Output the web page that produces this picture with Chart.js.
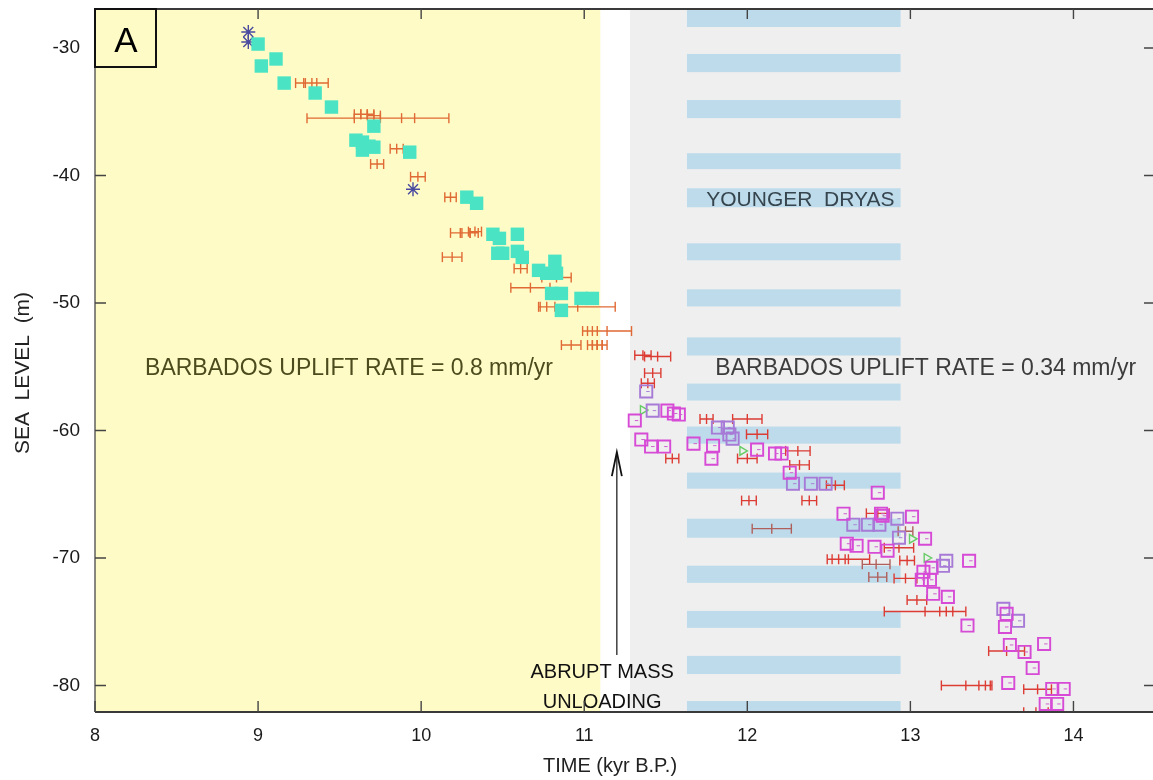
<!DOCTYPE html>
<html>
<head>
<meta charset="utf-8">
<script src="https://cdn.jsdelivr.net/npm/chart.js@4.4.0/dist/chart.umd.min.js"></script>
<style>
  html, body { margin: 0; padding: 0; background: #fff; overflow: hidden; }
  #wrap { width: 1156px; height: 780px; }
</style>
</head>
<body>
<div id="wrap"><canvas id="myChart"></canvas></div>
<script>
// time in kyr B.P., sea level in m
const xTicks = [8, 9, 10, 11, 12, 13, 14];
const yTicks = [-80, -70, -60, -50, -40, -30];

// filled squares (left, turquoise)
const coralX = [9.00, 9.02, 9.11, 9.16, 9.35, 9.45, 9.71, 9.60, 9.64, 9.68, 9.71, 9.64, 9.93, 10.28, 10.34,
  10.44, 10.48, 10.59, 10.47, 10.50, 10.59, 10.62, 10.72, 10.77, 10.82, 10.83, 10.80, 10.86, 10.98, 11.05, 10.86];
const coralY = [-29.69, -31.41, -30.86, -32.75, -33.53, -34.63, -36.13, -37.23, -37.38, -37.70, -37.78, -38.01, -38.17, -41.70, -42.18,
  -44.61, -44.93, -44.61, -46.10, -46.10, -45.95, -46.42, -47.44, -47.67, -46.73, -47.67, -49.25, -49.25, -49.64, -49.64, -50.58];

// asterisks
const starX = [8.94, 8.94, 9.95];
const starY = [-28.74, -29.53, -41.08];

// error bars, left part (x, y, half width)
const leftBarX = [9.28, 9.36, 9.59, 9.96, 9.63, 9.67, 9.71, 9.85, 9.73, 9.98, 10.18, 10.24, 10.30, 10.33, 10.19,
  10.61, 10.83, 10.67, 10.77, 10.96, 11.05, 11.14, 10.92, 11.05, 11.08, 11.11];
const leftBarY = [-32.75, -32.75, -35.5, -35.5, -35.2, -35.2, -35.3, -37.9, -39.1, -40.1, -41.7, -44.5, -44.5, -44.4, -46.4,
  -47.3, -48.0, -48.8, -50.3, -50.3, -52.2, -52.2, -53.3, -53.3, -53.3, -53.3];
const leftBarErr = [0.05, 0.07, 0.29, 0.21, 0.04, 0.04, 0.04, 0.04, 0.04, 0.045, 0.035, 0.06, 0.05, 0.04, 0.06,
  0.04, 0.09, 0.12, 0.05, 0.23, 0.03, 0.15, 0.06, 0.03, 0.03, 0.03];

// error bars, right part
const rightBarX = [11.36, 11.45, 11.42, 11.39, 11.75, 12.00, 12.06, 11.54, 12.00, 12.31, 12.32, 12.54, 12.01, 12.38,
  12.80, 12.93, 12.62, 12.56, 12.98, 12.97, 13.04, 13.09, 13.22, 13.59, 13.34, 13.46, 13.78, 13.77];
const rightBarY = [-54.1, -54.2, -55.5, -56.3, -59.1, -59.1, -60.3, -62.2, -62.2, -61.6, -62.7, -64.3, -65.5, -65.5,
  -66.5, -69.2, -70.1, -70.1, -70.2, -71.6, -73.3, -74.2, -74.2, -77.3, -80.0, -80.0, -80.3, -82.1];
const rightBarErr = [0.05, 0.08, 0.05, 0.04, 0.04, 0.09, 0.065, 0.04, 0.06, 0.075, 0.06, 0.055, 0.045, 0.045,
  0.07, 0.09, 0.13, 0.04, 0.045, 0.07, 0.06, 0.25, 0.04, 0.11, 0.15, 0.04, 0.085, 0.075];

// error bars, greyish
const greyBarX = [12.15, 12.97, 12.79, 12.80];
const greyBarY = [-67.7, -67.9, -70.5, -71.5];
const greyBarErr = [0.12, 0.045, 0.085, 0.055];

// open squares, magenta
const magX = [11.31, 11.55, 11.58, 11.51, 11.35, 11.41, 11.49, 11.67, 11.79, 11.78, 12.06, 12.17, 12.21, 12.26, 12.80,
  12.59, 12.82, 12.83, 13.01, 13.09, 12.61, 12.67, 12.78, 12.86, 13.36, 13.08, 13.13, 13.12, 13.07, 13.14, 13.23,
  13.35, 13.59, 13.58, 13.61, 13.70, 13.82, 13.75, 13.60, 13.87, 13.94, 13.83, 13.90];
const magY = [-59.22, -58.67, -58.75, -58.44, -60.71, -61.26, -61.26, -61.03, -61.19, -62.21, -61.50, -61.81, -61.81, -63.31, -64.88,
  -66.53, -66.53, -66.69, -66.76, -68.49, -68.88, -69.04, -69.12, -69.43, -70.22, -71.08, -70.77, -71.71, -71.71, -72.81, -73.05,
  -75.3, -74.38, -75.41, -76.82, -77.37, -76.74, -78.63, -79.80, -80.27, -80.27, -81.45, -81.45];

// open squares, lavender
const lavX = [11.38, 11.42, 11.82, 11.88, 11.89, 11.91, 12.28, 12.39, 12.48, 12.65, 12.74, 12.81, 12.92, 12.93, 13.22, 13.20, 13.57, 13.66];
const lavY = [-56.94, -58.44, -59.77, -59.77, -60.32, -60.64, -64.17, -64.17, -64.17, -67.39, -67.39, -67.39, -66.92, -68.41, -70.22, -70.61, -73.99, -74.93];

// small green markers
const greenX = [11.36, 11.97, 13.01, 13.10];
const greenY = [-58.4, -61.6, -68.5, -70.0];

// shaded periods and Younger Dryas stripes
const shadeFrom = [8, 11.10, 11.28];
const shadeTo = [11.10, 11.28, 14.5];
const stripeX = [11.63, 12.94];
const stripeTop = [-26.9, -30.47, -34.08, -38.25, -41.0, -45.32, -48.93, -52.70, -56.32, -59.69, -63.30, -66.92, -70.61, -74.15, -77.68, -81.22];
const stripeBottom = [-28.35, -31.89, -35.50, -39.50, -42.49, -46.65, -50.27, -54.12, -57.65, -61.03, -64.56, -68.41, -71.95, -75.48, -79.10, -82.5];

// arrow (x, from y, to y)
const arrowX = 11.20;
const arrowFrom = -77.6;
const arrowTo = -61.7;

const FONT = "'Liberation Sans', Arial, sans-serif";

function pts(xs, ys) {
  return xs.map((x, i) => ({ x: x, y: ys[i] }));
}

function barPts(xs, ys, es) {
  const out = [];
  xs.forEach((x, i) => {
    out.push({ x: x - es[i], y: ys[i] }, { x: x, y: ys[i] }, { x: x + es[i], y: ys[i] }, { x: x + es[i], y: null });
  });
  return out;
}

function barSet(data, color) {
  return {
    type: 'line', data: data, borderColor: color, borderWidth: 1.4, fill: false, tension: 0, spanGaps: false,
    pointStyle: 'line', rotation: 90, pointRadius: 5, pointBorderColor: color, pointBorderWidth: 1.4
  };
}

const backdrop = {
  id: 'backdrop',
  beforeDraw(chart) {
    const { ctx, chartArea: a, scales: { x, y } } = chart;
    const shadeColors = ['#fffbc6', '#ffffff', '#efefef'];
    ctx.save();
    ctx.beginPath();
    ctx.rect(a.left, a.top, a.right - a.left, a.bottom - a.top);
    ctx.clip();
    shadeFrom.forEach((s, i) => {
      const l = x.getPixelForValue(s), r = x.getPixelForValue(shadeTo[i]);
      ctx.fillStyle = shadeColors[i];
      ctx.fillRect(l, a.top, r - l, a.bottom - a.top);
    });
    ctx.fillStyle = '#bddbea';
    const l = x.getPixelForValue(stripeX[0]), r = x.getPixelForValue(stripeX[1]);
    stripeTop.forEach((t, i) => {
      const t1 = y.getPixelForValue(t), b1 = y.getPixelForValue(stripeBottom[i]);
      ctx.fillRect(l, t1, r - l, b1 - t1);
    });
    ctx.restore();
  },
  beforeDatasetsDraw(chart) {
    const { ctx, scales: { x, y } } = chart;
    ctx.save();
    ctx.textBaseline = 'middle';
    ctx.textAlign = 'left';
    ctx.font = '23px ' + FONT;
    ctx.fillStyle = '#4b4b1e';
    ctx.fillText('BARBADOS UPLIFT RATE = 0.8 mm/yr', x.getPixelForValue(8.307), y.getPixelForValue(-55.14));
    ctx.fillStyle = '#3c3c3c';
    ctx.fillText('BARBADOS UPLIFT RATE = 0.34 mm/yr', x.getPixelForValue(11.804), y.getPixelForValue(-55.14));
    ctx.font = '21px ' + FONT;
    ctx.fillStyle = '#36444e';
    ctx.fillText('YOUNGER  DRYAS', x.getPixelForValue(11.748), y.getPixelForValue(-41.94));

    ctx.textAlign = 'center';
    ctx.font = '20px ' + FONT;
    ctx.fillStyle = '#111';
    ctx.fillText('ABRUPT MASS', x.getPixelForValue(11.11), y.getPixelForValue(-79.0));
    ctx.fillText('UNLOADING', x.getPixelForValue(11.11), y.getPixelForValue(-81.3));

    // arrow
    const ax = x.getPixelForValue(arrowX);
    const ay0 = y.getPixelForValue(arrowFrom), ay1 = y.getPixelForValue(arrowTo);
    ctx.strokeStyle = '#111';
    ctx.lineWidth = 1.2;
    ctx.beginPath();
    ctx.moveTo(ax, ay0);
    ctx.lineTo(ax, ay1);
    ctx.stroke();
    ctx.lineWidth = 1.8;
    ctx.beginPath();
    ctx.moveTo(ax - 5, ay1 + 24);
    ctx.lineTo(ax, ay1);
    ctx.lineTo(ax + 5, ay1 + 24);
    ctx.stroke();
    ctx.restore();
  },
  afterDatasetsDraw(chart) {
    const { ctx, chartArea: a, scales: { x, y } } = chart;
    ctx.save();
    // frame
    ctx.strokeStyle = '#3a3a3a';
    ctx.lineWidth = 2.2;
    ctx.beginPath();
    ctx.moveTo(a.left, a.top); ctx.lineTo(a.right, a.top);
    ctx.moveTo(a.left, a.bottom); ctx.lineTo(a.right, a.bottom);
    ctx.stroke();
    ctx.lineWidth = 1.4;
    ctx.strokeStyle = '#555';
    ctx.beginPath();
    ctx.moveTo(a.left, a.top); ctx.lineTo(a.left, a.bottom);
    ctx.stroke();

    // inward ticks
    ctx.lineWidth = 1.4;
    ctx.strokeStyle = '#444';
    ctx.beginPath();
    xTicks.forEach(v => {
      const px = x.getPixelForValue(v);
      ctx.moveTo(px, a.bottom); ctx.lineTo(px, a.bottom - 11);
      ctx.moveTo(px, a.top); ctx.lineTo(px, a.top + 10);
    });
    yTicks.forEach(v => {
      const py = y.getPixelForValue(v);
      ctx.moveTo(a.left, py); ctx.lineTo(a.left + 11, py);
      ctx.moveTo(a.right, py); ctx.lineTo(a.right - 11, py);
    });
    ctx.stroke();

    // panel letter
    ctx.fillStyle = '#fffbc6';
    ctx.fillRect(a.left, a.top, 61, 58);
    ctx.strokeStyle = '#111';
    ctx.lineWidth = 2;
    ctx.strokeRect(a.left, a.top, 61, 58);
    ctx.fillStyle = '#000';
    ctx.font = '35px ' + FONT;
    ctx.textAlign = 'center';
    ctx.textBaseline = 'middle';
    ctx.fillText('A', a.left + 31, a.top + 33);

    // axis titles
    ctx.fillStyle = '#222';
    ctx.font = '20px ' + FONT;
    ctx.fillText('TIME (kyr B.P.)', 610, 766);
    ctx.translate(23, 373);
    ctx.rotate(-Math.PI / 2);
    ctx.font = '21px ' + FONT;
    ctx.fillText('SEA  LEVEL  (m)', 0, 0);
    ctx.restore();
  }
};

const ctx = document.getElementById('myChart').getContext('2d');

const data = {
  datasets: [
    { label: 'coral', data: pts(coralX, coralY), pointStyle: 'rect', pointRadius: 9.5, backgroundColor: '#4ae4c4', borderColor: '#4ae4c4', borderWidth: 0 },
    { label: 'star', data: pts(starX, starY), pointStyle: 'star', pointRadius: 7, borderColor: '#4a4aa0', borderWidth: 1.4, backgroundColor: '#4a4aa0' },
    { label: 'magDash', data: pts(magX, magY), pointStyle: 'dash', pointRadius: 3.5, borderColor: '#d060d0', borderWidth: 1 },
    { label: 'lavDash', data: pts(lavX, lavY), pointStyle: 'dash', pointRadius: 3.5, borderColor: '#a884d4', borderWidth: 1 },
    { label: 'mag', data: pts(magX, magY), pointStyle: 'rect', pointRadius: 8.6, borderColor: '#d64ad6', borderWidth: 1.9, backgroundColor: 'rgba(255,255,255,0)' },
    { label: 'lav', data: pts(lavX, lavY), pointStyle: 'rect', pointRadius: 8.6, borderColor: '#a67ad6', borderWidth: 1.9, backgroundColor: 'rgba(255,255,255,0)' },
    { label: 'green', data: pts(greenX, greenY), pointStyle: 'triangle', rotation: 90, pointRadius: 5, borderColor: '#66cc66', borderWidth: 1.4, backgroundColor: 'rgba(255,255,255,0)' },
    barSet(barPts(greyBarX, greyBarY, greyBarErr), '#b0605c'),
    barSet(barPts(rightBarX, rightBarY, rightBarErr), '#dc3c34'),
    barSet(barPts(leftBarX, leftBarY, leftBarErr), '#e06a35')
  ]
};

const config = {
  type: 'scatter',
  data: data,
  plugins: [backdrop],
  options: {
    responsive: true,
    maintainAspectRatio: false,
    animation: false,
    events: [],
    layout: { autoPadding: false, padding: { top: 9, right: 1, left: 0, bottom: 0 } },
    plugins: { legend: { display: false }, tooltip: { enabled: false } },
    scales: {
      x: {
        type: 'linear', min: 8, max: 14.5,
        afterBuildTicks: s => { s.ticks = xTicks.map(v => ({ value: v })); },
        afterFit: s => { s.height = 68; s.paddingLeft = 0; s.paddingRight = 0; },
        grid: { display: false, drawTicks: false },
        border: { display: false },
        ticks: { color: '#1a1a1a', font: { family: FONT, size: 18 }, padding: 13, maxRotation: 0, autoSkip: false }
      },
      y: {
        type: 'linear', min: -82.08, max: -26.94,
        afterBuildTicks: s => { s.ticks = yTicks.map(v => ({ value: v })); },
        afterFit: s => { s.width = 95; s.paddingTop = 0; s.paddingBottom = 0; },
        grid: { display: false, drawTicks: false },
        border: { display: false },
        ticks: { color: '#1a1a1a', font: { family: FONT, size: 19 }, padding: 15, autoSkip: false }
      }
    }
  }
};

const myChart = new Chart(ctx, config);
</script>
</body>
</html>
